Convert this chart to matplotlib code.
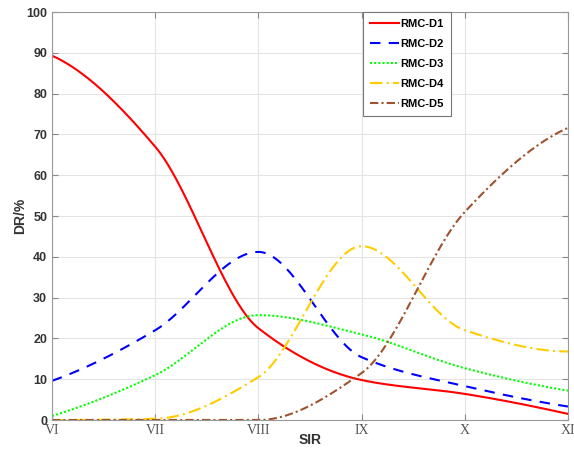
import numpy as np
import matplotlib.pyplot as plt

sir_labels = ["VI", "VII", "VIII", "IX", "X", "XI"]
d1 = [89.3, 67.0, 22.5, 9.8, 6.4, 1.5]
d2 = [9.6, 22.0, 41.2, 15.4, 8.3, 3.3]
d3 = [1.0, 11.0, 25.7, 21.0, 12.7, 7.2]
d4 = [0.0, 0.3, 10.5, 42.6, 22.0, 16.8]
d5 = [0.0, 0.0, 0.0, 11.5, 51.0, 71.6]


def pchip(x, y, xs):
    # shape-preserving piecewise cubic, same as MATLAB pchip
    x = np.asarray(x, float)
    y = np.asarray(y, float)
    h = np.diff(x)
    delta = np.diff(y) / h
    n = len(x)
    d = np.zeros(n)
    for k in range(1, n - 1):
        if delta[k - 1] * delta[k] > 0:
            w1 = 2 * h[k] + h[k - 1]
            w2 = h[k] + 2 * h[k - 1]
            d[k] = (w1 + w2) / (w1 / delta[k - 1] + w2 / delta[k])

    def end_slope(h0, h1, del0, del1):
        s = ((2 * h0 + h1) * del0 - h0 * del1) / (h0 + h1)
        if np.sign(s) != np.sign(del0):
            s = 0.0
        elif np.sign(del0) != np.sign(del1) and abs(s) > abs(3 * del0):
            s = 3 * del0
        return s

    d[0] = end_slope(h[0], h[1], delta[0], delta[1])
    d[-1] = end_slope(h[-1], h[-2], delta[-1], delta[-2])
    idx = np.clip(np.searchsorted(x, xs) - 1, 0, n - 2)
    t = (xs - x[idx]) / h[idx]
    hk = h[idx]
    h00 = 2 * t**3 - 3 * t**2 + 1
    h10 = t**3 - 2 * t**2 + t
    h01 = -2 * t**3 + 3 * t**2
    h11 = t**3 - t**2
    return h00 * y[idx] + h10 * hk * d[idx] + h01 * y[idx + 1] + h11 * hk * d[idx + 1]


x = np.arange(len(sir_labels))
xs = np.linspace(0, len(sir_labels) - 1, 400)

fig = plt.figure(figsize=(5.74, 4.55), dpi=100)
ax = fig.add_axes([0.0906, 0.0769, 0.8989, 0.8967])

series = [
    ("RMC-D1", d1, "#ff0000", "-"),
    ("RMC-D2", d2, "#0000ff", (0, (5, 4))),
    ("RMC-D3", d3, "#00ff00", (0, (1, 1))),
    ("RMC-D4", d4, "#ffcc00", (0, (6, 2, 1, 2))),
    ("RMC-D5", d5, "#a0522d", (0, (4, 1.5, 1, 1.5))),
]
for name, vals, col, ls in series:
    ax.plot(xs, pchip(x, vals, xs), color=col, linestyle=ls, linewidth=1.5, label=name)

ax.set_xlim(0, len(sir_labels) - 1)
ax.set_ylim(0, 100)
ax.set_xticks(x)
ax.set_xticklabels(sir_labels, family="Liberation Serif", fontsize=10, color="#555555")
ax.set_yticks(range(0, 101, 10))
for lbl in ax.get_yticklabels():
    lbl.set_family("Liberation Sans")
    lbl.set_fontweight("bold")
    lbl.set_fontsize(9)
    lbl.set_color("#333333")

ax.grid(True, color="#e4e4e4", linewidth=0.8)
ax.tick_params(direction="in", top=True, right=True, length=4, color="#888888")
ax.tick_params(axis="x", pad=3)
for sp in ax.spines.values():
    sp.set_color("#999999")
    sp.set_linewidth(0.8)

ax.set_xlabel("SIR", family="Liberation Sans", fontweight="bold", fontsize=10, color="#333333")
ax.set_ylabel("DR/%", family="Liberation Sans", fontweight="bold", fontsize=10, color="#333333")
ax.xaxis.set_label_coords(0.5, -0.032)
ax.yaxis.set_label_coords(-0.048, 0.5)

leg = ax.legend(loc="upper left", bbox_to_anchor=(0.602, 1.0), fancybox=False, framealpha=1,
                edgecolor="#777777", handlelength=2.6, handletextpad=0.15, borderpad=0.65,
                labelspacing=0.9, borderaxespad=0,
                prop={"family": "Liberation Sans", "weight": "bold", "size": 8})
leg.get_frame().set_linewidth(0.8)

fig.savefig("out.png", dpi=100)
